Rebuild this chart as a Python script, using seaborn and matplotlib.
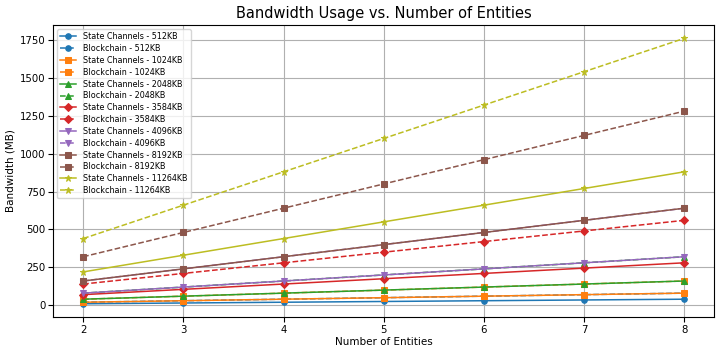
import numpy as np
import pandas as pd
import matplotlib
matplotlib.use("Agg")
import matplotlib.pyplot as plt
import seaborn as sns

# --------------------------------------------------
# Data (bandwidth in MB)
# --------------------------------------------------
entities = [2, 3, 4, 5, 6, 7, 8]
sizes = ["512KB", "1024KB", "2048KB", "3584KB", "4096KB", "8192KB", "11264KB"]

sc_512 = [10, 15, 20, 25, 30, 35, 40]
bc_512 = [20, 30, 40, 50, 60, 70, 80]
sc_1024 = [20, 30, 40, 50, 60, 70, 80]
bc_1024 = [40, 60, 80, 100, 120, 140, 160]
sc_2048 = [40, 60, 80, 100, 120, 140, 160]
bc_2048 = [80, 120, 160, 200, 240, 280, 320]
sc_3584 = [70, 105, 140, 175, 210, 245, 280]
bc_3584 = [140, 210, 280, 350, 420, 490, 560]
sc_4096 = [80, 120, 160, 200, 240, 280, 320]
bc_4096 = [160, 240, 320, 400, 480, 560, 640]
sc_8192 = [160, 240, 320, 400, 480, 560, 640]
bc_8192 = [320, 480, 640, 800, 960, 1120, 1280]
sc_11264 = [220, 330, 440, 550, 660, 770, 880]
bc_11264 = [440, 660, 880, 1100, 1320, 1540, 1760]

state_channels = [sc_512, sc_1024, sc_2048, sc_3584, sc_4096, sc_8192, sc_11264]
blockchain = [bc_512, bc_1024, bc_2048, bc_3584, bc_4096, bc_8192, bc_11264]

colors = ["#1f77b4", "#ff7f0e", "#2ca02c", "#d62728", "#9467bd", "#8c564b", "#bcbd22"]
markers = ["o", "s", "^", "D", "v", "s", "*"]

# --------------------------------------------------
# Plot
# --------------------------------------------------
fig, ax = plt.subplots(figsize=(7.18, 3.48), dpi=100)

for size, sc, bc, c, m in zip(sizes, state_channels, blockchain, colors, markers):
    ms = 5 if m == "*" else 4
    sns.lineplot(x=entities, y=sc, ax=ax, color=c, marker=m, markersize=ms,
                 markeredgecolor=c, linewidth=1.1, label=f"State Channels - {size}")
    sns.lineplot(x=entities, y=bc, ax=ax, color=c, marker=m, markersize=ms,
                 markeredgecolor=c, linewidth=1.1, linestyle="--",
                 label=f"Blockchain - {size}")

ax.set_title("Bandwidth Usage vs. Number of Entities", fontsize=10.5, pad=5)
ax.set_xlabel("Number of Entities", fontsize=7.5, labelpad=2)
ax.set_ylabel("Bandwidth (MB)", fontsize=7.5, labelpad=3)
ax.tick_params(labelsize=7.3, pad=2)
ax.set_yticks(np.arange(0, 1751, 250))
ax.grid(True)
ax.legend(loc="upper left", fontsize=5.8, labelspacing=0.35)

plt.subplots_adjust(left=0.074, right=0.995, top=0.928, bottom=0.089)
plt.savefig("out.png", dpi=100)
